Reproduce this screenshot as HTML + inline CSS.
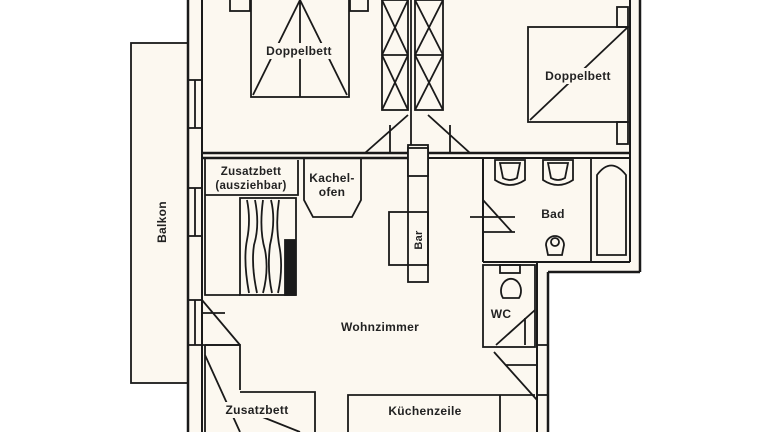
<!DOCTYPE html>
<html><head><meta charset="utf-8"><style>
html,body{margin:0;padding:0;background:#fff;width:768px;height:432px;overflow:hidden}
svg text{font-family:"Liberation Sans",sans-serif;font-weight:bold;fill:#222;stroke:none;letter-spacing:0.3px}
</style></head><body>
<svg width="768" height="432" viewBox="0 0 768 432" xmlns="http://www.w3.org/2000/svg">
<g stroke="#1a1a1a" fill="none" stroke-width="1.8">
<path d="M188 0 H641 V272 H548 V432 H188 Z" fill="#fcf8f0" stroke="none"/>
<rect x="131" y="43" width="57" height="340" fill="#fcf8f0"/>
<line x1="188" y1="0" x2="188" y2="432" stroke-width="2.5"/>
<line x1="202" y1="0" x2="202" y2="432" stroke-width="2"/>
<line x1="195" y1="80" x2="195" y2="128"/><line x1="188" y1="80" x2="202" y2="80"/><line x1="188" y1="128" x2="202" y2="128"/>
<line x1="195" y1="188" x2="195" y2="236"/><line x1="188" y1="188" x2="202" y2="188"/><line x1="188" y1="236" x2="202" y2="236"/>
<line x1="195" y1="300" x2="195" y2="345"/><line x1="188" y1="300" x2="202" y2="300"/><line x1="188" y1="345" x2="202" y2="345"/>
<line x1="640" y1="0" x2="640" y2="272" stroke-width="2.5"/>
<line x1="630" y1="0" x2="630" y2="262" stroke-width="2"/>
<line x1="548" y1="272" x2="640" y2="272" stroke-width="2.5"/>
<line x1="537" y1="262" x2="630" y2="262" stroke-width="2"/>
<line x1="548" y1="272" x2="548" y2="432" stroke-width="2.5"/>
<line x1="537" y1="262" x2="537" y2="432" stroke-width="2"/>
<line x1="202" y1="153" x2="630" y2="153" stroke-width="2.5"/>
<line x1="202" y1="158" x2="408" y2="158" stroke-width="2.5"/>
<line x1="428" y1="158" x2="630" y2="158" stroke-width="2"/>
<path d="M408 115 L365 153 M390 125 V153"/>
<path d="M428 115 L470 153 M450 125 V153"/>
<rect x="382" y="0" width="26" height="110"/>
<rect x="415" y="0" width="28" height="110"/>
<path d="M382 0 L408 55 M408 0 L382 55 M382 55 L408 110 M408 55 L382 110 M382 55 H408"/>
<path d="M415 0 L443 55 M443 0 L415 55 M415 55 L443 110 M443 55 L415 110 M415 55 H443"/>
<line x1="411" y1="0" x2="411" y2="145"/>
<rect x="251" y="-2" width="98" height="99"/>
<rect x="230" y="-2" width="20" height="13"/><rect x="350" y="-2" width="18" height="13"/>
<path d="M300 0 V97 M300 0 L253 95 M300 0 L347 95"/>
<rect x="262" y="43" width="76" height="16" fill="#fcf8f0" stroke="none"/>
<text x="299" y="55" font-size="12" text-anchor="middle">Doppelbett</text>
<rect x="528" y="27" width="100" height="95"/>
<path d="M628 27 L530 120"/>
<rect x="617" y="7" width="11" height="20"/><rect x="617" y="122" width="11" height="22"/>
<rect x="538" y="68" width="76" height="16" fill="#fcf8f0" stroke="none"/>
<text x="578" y="80" font-size="12" text-anchor="middle">Doppelbett</text>
<line x1="483" y1="158" x2="483" y2="262" stroke-width="2"/>
<line x1="483" y1="262" x2="537" y2="262" stroke-width="2"/>
<line x1="591" y1="158" x2="591" y2="262"/>
<path d="M597 255 V175 Q611 156 626 175 V255 Z"/>
<path d="M495 160 H525 V180 Q510 190 495 180 Z"/><path d="M500 163 H520 L517 178 Q510 182 503 178 Z"/>
<path d="M543 160 H573 V180 Q558 190 543 180 Z"/><path d="M548 163 H568 L565 178 Q558 182 551 178 Z"/>
<path d="M548 255 L546 245 A9 9 0 1 1 564 245 L562 255 Z"/><circle cx="555" cy="242" r="4"/>
<path d="M483 200 L512 232 M470 217 H515 M483 232 H515"/>
<text x="553" y="218" font-size="12" text-anchor="middle">Bad</text>
<rect x="483" y="265" width="52" height="82"/>
<rect x="500" y="265" width="20" height="8"/>
<path d="M503 298 A10 12 0 1 1 519 298 Z"/>
<path d="M535 310 L496 345 M525 318 V345"/>
<text x="501" y="318" font-size="12" text-anchor="middle">WC</text>
<path d="M494 352 L537 400 M505 365 H537"/>
<line x1="537" y1="345" x2="548" y2="345"/><line x1="537" y1="395" x2="548" y2="395"/>
<path d="M205 158 V295 H240 M205 195 H298 V160"/>
<rect x="240" y="198" width="56" height="97"/>
<path d="M247 200 q4 20 0 40 q-4 20 2 53 M255 200 q5 25 -1 45 q-3 20 3 48 M263 200 q-4 30 2 50 q4 20 -2 43 M271 200 q5 20 -1 45 q-3 25 2 48 M279 200 q-4 25 1 50 q3 20 -2 43"/>
<rect x="285" y="240" width="10" height="55" fill="#1a1a1a"/>
<rect x="208" y="161" width="88" height="32" fill="#fcf8f0" stroke="none"/>
<text x="251" y="175" font-size="11.5" text-anchor="middle">Zusatzbett</text>
<text x="251" y="189" font-size="11.5" text-anchor="middle">(ausziehbar)</text>
<path d="M304 158 V200 L313 217 H352 L361 200 V158"/>
<text x="332" y="182" font-size="12" text-anchor="middle">Kachel-</text>
<text x="332" y="196" font-size="12" text-anchor="middle">ofen</text>
<rect x="408" y="145" width="20" height="137"/>
<rect x="389" y="212" width="39" height="53"/>
<rect x="408" y="148" width="20" height="28" fill="#fcf8f0"/>
<text transform="translate(422,240) rotate(-90)" font-size="11" text-anchor="middle">Bar</text>
<text x="380" y="331" font-size="12" text-anchor="middle">Wohnzimmer</text>
<path d="M202 300 L240 345 M202 313 H225 M202 345 H240"/>
<path d="M205 345 V432 M205 345 H240 V390"/>
<path d="M205 355 L240 432 M240 392 H315 V432 M240 408 L300 432"/>
<rect x="215" y="402" width="75" height="16" fill="#fcf8f0" stroke="none"/>
<text x="257" y="414" font-size="12" text-anchor="middle">Zusatzbett</text>
<path d="M348 432 V395 H535 M500 395 V432"/>
<text x="425" y="415" font-size="12" text-anchor="middle">Küchenzeile</text>
<text transform="translate(166,222) rotate(-90)" font-size="12" text-anchor="middle">Balkon</text>
</g>
</svg>
</body></html>
